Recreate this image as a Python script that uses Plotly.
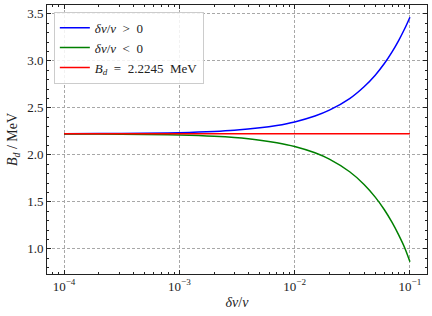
import plotly.graph_objects as go

# data
dv = [1e-4, 2e-4, 5e-4, 1e-3, 2e-3, 3e-3, 5e-3, 7e-3, 1e-2, 1.5e-2, 2e-2,
      3e-2, 4e-2, 5e-2, 6e-2, 7e-2, 8e-2, 9e-2, 1e-1]
b_pos = [2.2258, 2.2270, 2.2308, 2.2371, 2.2497, 2.2623, 2.2880, 2.3133, 2.3510,
         2.4135, 2.4760, 2.5990, 2.7250, 2.8480, 2.9720, 3.0960, 3.2190, 3.3420, 3.4650]
b_neg = [2.2232, 2.2218, 2.2178, 2.2110, 2.1976, 2.1841, 2.1572, 2.1303, 2.0900,
         2.0226, 1.9553, 1.8207, 1.6860, 1.5510, 1.4170, 1.2820, 1.1470, 1.0130, 0.8630]
bd_x = [1e-4, 1e-1]
bd_y = [2.2245, 2.2245]
x_ticks = [1e-4, 1e-3, 1e-2, 1e-1]
x_ticklabels = ["10<sup>−4</sup>", "10<sup>−3</sup>", "10<sup>−2</sup>", "10<sup>−1</sup>"]
y_ticks = [1.0, 1.5, 2.0, 2.5, 3.0, 3.5]
y_ticklabels = ["1.0", "1.5", "2.0", "2.5", "3.0", "3.5"]

FONT = "Liberation Serif, DejaVu Serif, serif"
INK = "#222222"

fig = go.Figure()
fig.add_trace(go.Scatter(x=dv, y=b_pos, mode="lines", line=dict(color="#0000ff", width=1.5, shape="spline"),
                         name="<i>δv</i>/<i>v</i>&nbsp;&nbsp;&gt;&nbsp;&nbsp;0"))
fig.add_trace(go.Scatter(x=dv, y=b_neg, mode="lines", line=dict(color="#008000", width=1.5, shape="spline"),
                         name="<i>δv</i>/<i>v</i>&nbsp;&nbsp;&lt;&nbsp;&nbsp;0"))
fig.add_trace(go.Scatter(x=bd_x, y=bd_y, mode="lines", line=dict(color="#ff0000", width=1.5),
                         name="<i>B<sub>d</sub></i>&nbsp;&nbsp;=&nbsp;&nbsp;2.2245&nbsp;&nbsp;MeV"))

axis_common = dict(
    showline=True, linecolor=INK, linewidth=1, mirror="allticks",
    ticks="inside", ticklen=4, tickcolor=INK, tickwidth=1,
    showgrid=True, gridcolor="#a8a8a8", griddash="3px,2px", gridwidth=0.7,
    zeroline=False, automargin=False,
    tickfont=dict(family=FONT, size=13, color=INK),
)

fig.update_xaxes(type="log", range=[-4.148, -0.852], tickvals=x_ticks, ticktext=x_ticklabels,
                 title=dict(text="<i>δv</i>/<i>v</i>", font=dict(family=FONT, size=14, color=INK), standoff=4),
                 minor=dict(ticks="inside", ticklen=2, tickcolor=INK,
                            tickvals=[m * 10 ** e for e in (-5, -4, -3, -2, -1) for m in range(2, 10)],
                            showgrid=False),
                 **axis_common)
fig.update_yaxes(range=[0.733, 3.595], tickvals=y_ticks, ticktext=y_ticklabels,
                 title=dict(text="<i>B<sub>d</sub></i> / MeV", font=dict(family=FONT, size=14, color=INK), standoff=6),
                 minor=dict(ticks="inside", ticklen=2, tickcolor=INK, dtick=0.1, showgrid=False),
                 **axis_common)

fig.update_layout(
    width=432, height=316,
    margin=dict(l=47, r=5, t=5, b=42),
    paper_bgcolor="white", plot_bgcolor="white",
    font=dict(family=FONT, size=13, color=INK),
    showlegend=True,
    legend=dict(x=0.018, y=0.975, xanchor="left", yanchor="top",
                bgcolor="rgba(255,255,255,0.85)", bordercolor="#cccccc", borderwidth=1,
                font=dict(family=FONT, size=13, color=INK),
                tracegroupgap=0, itemwidth=30),
)

fig.write_html("out.html", config={"displayModeBar": False},
               post_script="document.body.style.margin='0';")
